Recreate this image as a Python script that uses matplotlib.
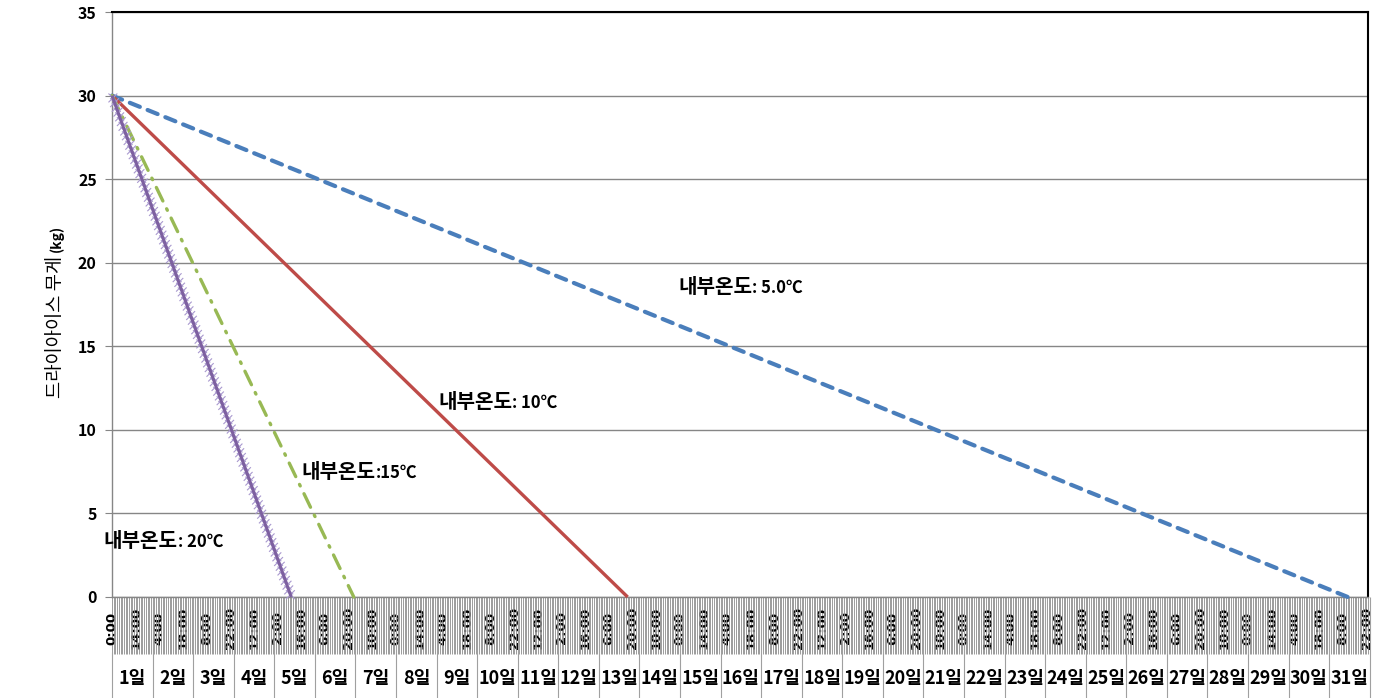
import numpy as np
import matplotlib.pyplot as plt
import matplotlib.patheffects as pe

plt.rcParams['font.family'] = ['Noto Sans CJK KR', 'DejaVu Sans']

# hourly category axis, 31 days
n_hours = 744
tick_hours = list(range(0, n_hours, 14))
tick_labels = [f'{h % 24}:00' for h in tick_hours]
day_labels = [f'{d}일' for d in range(1, 32)]

# dry ice weight (kg): full at hour 0, empty at end hour
temps = [': 5.0℃', ': 10℃', ':15℃', ': 20℃']
start_kg = [30, 30, 30, 30]
end_hour = [731, 305, 143, 106]

colors = ['#4a7ebb', '#be4b48', '#98b954', '#7d60a0']
styles = [(0, (2.6, 2.0)), '-', (0, (4.5, 2.6, 0.5, 2.6)), '-']
widths = [3.0, 2.4, 2.4, 2.2]
# label anchor (hour, kg) for each series
label_pos = [(335, 18.6), (193, 11.7), (112, 7.5), (-5, 3.4)]

fig = plt.figure(figsize=(13.92, 6.98), dpi=100)
ax = fig.add_axes([0.0805, 0.1447, 0.9023, 0.8381])

for i in range(4):
    x = [0, end_hour[i]]
    y = [start_kg[i], 0]
    cap = 'round' if i != 1 else 'butt'
    line, = ax.plot(x, y, color=colors[i], lw=widths[i], linestyle=styles[i],
                    dash_capstyle=cap, solid_capstyle='butt', clip_on=False, zorder=3)
    if i == 3:
        # x-shaped markers along the line
        th = np.degrees(np.arctan2(-30 * 16.7, 106 * 1.6904))
        effects = [pe.TickedStroke(spacing=3.6, angle=a - th, length=1.25,
                                   foreground='#a999cf', linewidth=0.8)
                   for a in (45, 135, -135, -45)]
        line.set_path_effects(effects + [pe.Normal()])

for i in range(4):
    t = ax.text(label_pos[i][0], label_pos[i][1], '내부온도', fontsize=14.5,
                fontweight='bold', va='center', ha='left', zorder=5)
    ax.annotate(temps[i], xy=(1, 0.42), xycoords=t, fontsize=12,
                fontweight='bold', va='center', ha='left', zorder=5)

ax.set_xlim(0, n_hours - 1)
ax.set_ylim(0, 35)
ax.set_yticks(range(0, 36, 5))
ax.tick_params(axis='y', length=5, color='#868686', pad=6, labelsize=11.5)
for lab in ax.get_yticklabels():
    lab.set_fontweight('bold')
ax.grid(axis='y', color='#868686', lw=1)
ax.set_axisbelow(True)

ax.set_xticks(tick_hours, tick_labels, rotation=90, va='center',
              fontweight='bold', fontsize=9.5, family='DejaVu Sans')
ax.set_xticks(np.arange(n_hours), minor=True)
ax.tick_params(axis='x', which='both', length=41, width=0.6, color='#8c8c8c', pad=-18.7)

for s in ['top', 'right']:
    ax.spines[s].set_color('black')
    ax.spines[s].set_linewidth(1.5)
for s in ['left', 'bottom']:
    ax.spines[s].set_color('#868686')
    ax.spines[s].set_linewidth(1)

# day row under the hour labels
xt = ax.get_xaxis_transform()
ax.vlines([24 * d for d in range(1, 32)], -0.1726, 0, transform=xt,
          color='#a0a0a0', lw=0.8, clip_on=False)
ax.vlines([0], -0.1726, -0.094, transform=xt, color='#a0a0a0', lw=0.8, clip_on=False)
for d in range(31):
    ax.text(24 * d + 12, -0.140, day_labels[d], transform=xt, ha='center', va='center',
            fontsize=13, fontweight='bold')

fig.text(55 / 1392, 1 - 327 / 698, '드라이아이스 무게', rotation=90, fontsize=13.5,
         ha='center', va='center')
fig.text(57 / 1392, 1 - 238 / 698, '(kg)', rotation=90, fontsize=10,
         fontweight='bold', ha='center', va='center')

fig.savefig('out.png', dpi=100)
